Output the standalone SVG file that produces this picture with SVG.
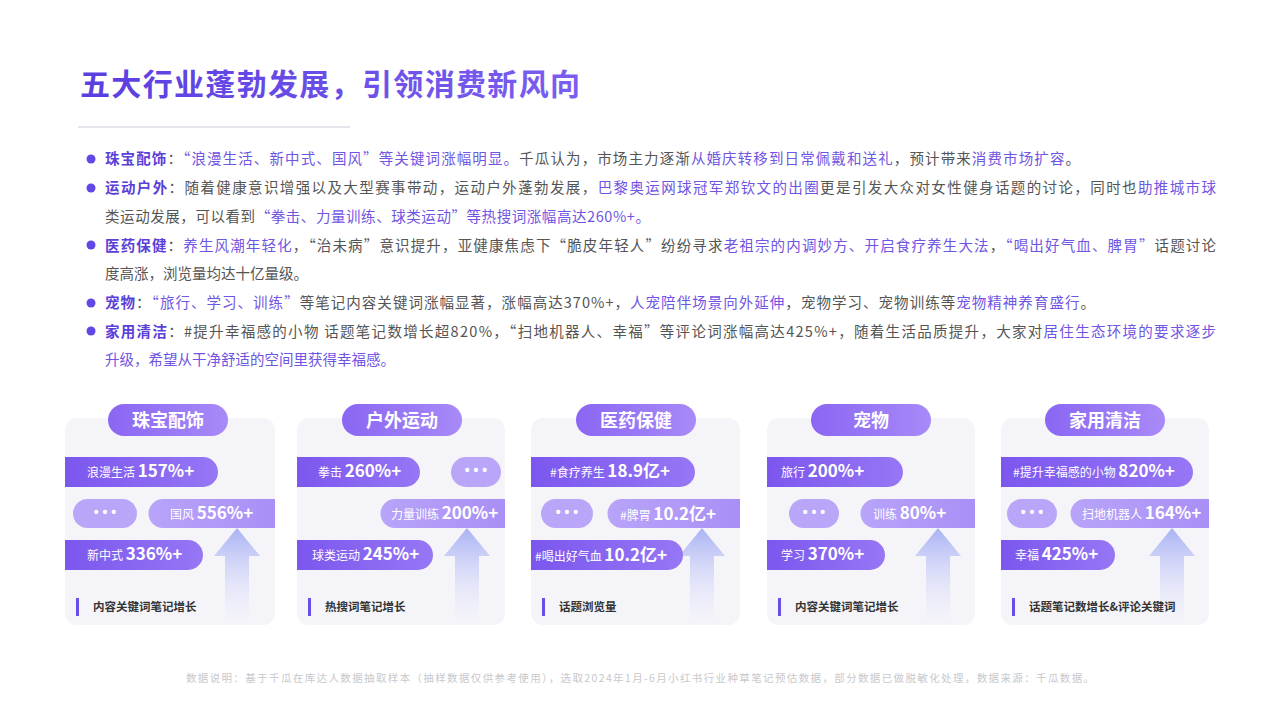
<svg xmlns="http://www.w3.org/2000/svg" width="1280" height="720" viewBox="0 0 1280 720">
<defs>
<linearGradient id="hd" x1="0" x2="1"><stop offset="0" stop-color="#8a66f3"/><stop offset="1" stop-color="#a88af8"/></linearGradient>
<linearGradient id="dk" x1="0" x2="1"><stop offset="0" stop-color="#7b57ee"/><stop offset="1" stop-color="#9677f5"/></linearGradient>
<linearGradient id="lt" x1="0" x2="1"><stop offset="0" stop-color="#b8a4f9"/><stop offset="1" stop-color="#a98ff6"/></linearGradient>
<linearGradient id="ar" x1="0" y1="0" x2="0" y2="1"><stop offset="0" stop-color="#a9b2f4"/><stop offset="1" stop-color="#f2f0fb" stop-opacity="0.2"/></linearGradient>
<linearGradient id="tt" x1="0" x2="1"><stop offset="0" stop-color="#5a3ee0"/><stop offset="1" stop-color="#7b5ef0"/></linearGradient>
</defs>
<style>
text{font-family:"Noto Sans CJK SC","Noto Sans",sans-serif}
.p{font-size:14.5px;fill:#555}
.h{fill:#5a3fd8;font-weight:bold}
.k{fill:#6f55e2}
.card{fill:#f5f5f9}
.hdt{fill:#fff;font-size:18px;font-weight:bold;text-anchor:middle}
.bt{fill:#fff;font-size:12px}
.bn{fill:#fff;font-size:17px;font-weight:bold}
.dots{fill:#fff;font-size:14px;font-weight:bold;text-anchor:middle;font-family:"Liberation Sans",sans-serif}
.lg{fill:#333;font-size:11.5px;font-weight:bold}
</style>
<rect width="1280" height="720" fill="#fff"/>
<text x="80" y="95" font-size="30" font-weight="bold" fill="url(#tt)" textLength="500" lengthAdjust="spacing">五大行业蓬勃发展，引领消费新风向</text>
<line x1="78" y1="127" x2="350" y2="127" stroke="#dcdce4" stroke-width="1.5"/>
<g fill="#6247e6"><circle cx="91" cy="159" r="4.5"/><circle cx="91" cy="188" r="4.5"/><circle cx="91" cy="245" r="4.5"/><circle cx="91" cy="303" r="4.5"/><circle cx="91" cy="331" r="4.5"/></g>
<text class="p" x="105" y="164" textLength="975" lengthAdjust="spacing"><tspan class="h">珠宝配饰</tspan>：<tspan class="k">“浪漫生活、新中式、国风”等关键词涨幅明显。</tspan>千瓜认为，市场主力逐渐<tspan class="k">从婚庆转移到日常佩戴和送礼</tspan>，预计带来<tspan class="k">消费市场扩容</tspan>。</text>
<text class="p" x="105" y="193" textLength="1111" lengthAdjust="spacing"><tspan class="h">运动户外</tspan>：随着健康意识增强以及大型赛事带动，运动户外蓬勃发展，<tspan class="k">巴黎奥运网球冠军郑钦文的出圈</tspan>更是引发大众对女性健身话题的讨论，同时也<tspan class="k">助推城市球</tspan></text>
<text class="p" x="105" y="222" textLength="545" lengthAdjust="spacing">类运动发展，可以看到<tspan class="k">“拳击、力量训练、球类运动”等热搜词涨幅高达260%+。</tspan></text>
<text class="p" x="105" y="251" textLength="1111" lengthAdjust="spacing"><tspan class="h">医药保健</tspan>：<tspan class="k">养生风潮年轻化</tspan>，“治未病”意识提升，亚健康焦虑下“脆皮年轻人”纷纷寻求<tspan class="k">老祖宗的内调妙方、开启食疗养生大法</tspan>，<tspan class="k">“喝出好气血、脾胃”</tspan>话题讨论</text>
<text class="p" x="105" y="279">度高涨，浏览量均达十亿量级。</text>
<text class="p" x="105" y="308" textLength="990" lengthAdjust="spacing"><tspan class="h">宠物</tspan>：<tspan class="k">“旅行、学习、训练”</tspan>等笔记内容关键词涨幅显著，涨幅高达370%+，<tspan class="k">人宠陪伴场景向外延伸</tspan>，宠物学习、宠物训练等<tspan class="k">宠物精神养育盛行</tspan>。</text>
<text class="p" x="105" y="337" textLength="1111" lengthAdjust="spacing"><tspan class="h">家用清洁</tspan>：#提升幸福感的小物  话题笔记数增长超820%，“扫地机器人、幸福”等评论词涨幅高达425%+，随着生活品质提升，大家对<tspan class="k">居住生态环境的要求逐步</tspan></text>
<text class="p" x="105" y="365"><tspan class="k">升级，希望从干净舒适的空间里获得幸福感。</tspan></text>

<g id="card1">
<rect class="card" x="65" y="418" width="210" height="207" rx="12"/>
<path d="M214 556 L237 528 L260 556 L249 556 L249 625 L225 625 L225 556 Z" fill="url(#ar)"/>
<rect x="108" y="404" width="120" height="32" rx="16" fill="url(#hd)"/><text class="hdt" x="168" y="427">珠宝配饰</text>
<path d="M65 457 H203 A15 15 0 0 1 203 487 H65 Z" fill="url(#dk)"/><text x="87" y="477"><tspan class="bt">浪漫生活 </tspan><tspan class="bn">157%+</tspan></text>
<rect x="73" y="499" width="64" height="29" rx="14.5" fill="#b9a6f8"/><text class="dots" x="105" y="517">• • •</text>
<path d="M275 499 H163 A14.5 14.5 0 0 0 163 528 H275 Z" fill="url(#lt)"/><text x="170" y="519"><tspan class="bt">国风 </tspan><tspan class="bn">556%+</tspan></text>
<path d="M65 540 H188 A15 15 0 0 1 188 570 H65 Z" fill="url(#dk)"/><text x="87" y="560"><tspan class="bt">新中式 </tspan><tspan class="bn">336%+</tspan></text>
<rect x="76" y="598" width="3" height="18" fill="#6a4ee8"/><text class="lg" x="93" y="611">内容关键词笔记增长</text>
</g>
<g id="card2">
<rect class="card" x="297" y="418" width="208" height="207" rx="12"/>
<path d="M444 556 L467 528 L490 556 L479 556 L479 625 L455 625 L455 556 Z" fill="url(#ar)"/>
<rect x="342" y="404" width="120" height="32" rx="16" fill="url(#hd)"/><text class="hdt" x="402" y="427">户外运动</text>
<path d="M297 457 H405 A15 15 0 0 1 405 487 H297 Z" fill="url(#dk)"/><text x="318" y="477"><tspan class="bt">拳击 </tspan><tspan class="bn">260%+</tspan></text>
<rect x="451" y="457" width="50" height="30" rx="15" fill="#b9a6f8"/><text class="dots" x="476" y="475">• • •</text>
<path d="M505 499 H395 A14.5 14.5 0 0 0 395 528 H505 Z" fill="url(#lt)"/><text x="391" y="519"><tspan class="bt">力量训练 </tspan><tspan class="bn">200%+</tspan></text>
<path d="M297 540 H418 A15 15 0 0 1 418 570 H297 Z" fill="url(#dk)"/><text x="312" y="560"><tspan class="bt">球类运动 </tspan><tspan class="bn">245%+</tspan></text>
<rect x="308" y="598" width="3" height="18" fill="#6a4ee8"/><text class="lg" x="325" y="611">热搜词笔记增长</text>
</g>
<g id="card3">
<rect class="card" x="531" y="418" width="209" height="207" rx="12"/>
<path d="M679 556 L702 528 L725 556 L714 556 L714 625 L690 625 L690 556 Z" fill="url(#ar)"/>
<rect x="576" y="404" width="120" height="32" rx="16" fill="url(#hd)"/><text class="hdt" x="636" y="427">医药保健</text>
<path d="M531 457 H680 A15 15 0 0 1 680 487 H531 Z" fill="url(#dk)"/><text x="550" y="477"><tspan class="bt">#食疗养生 </tspan><tspan class="bn">18.9亿+</tspan></text>
<rect x="541" y="499" width="52" height="29" rx="14.5" fill="#b9a6f8"/><text class="dots" x="567" y="517">• • •</text>
<path d="M740 499 H622 A14.5 14.5 0 0 0 622 528 H740 Z" fill="url(#lt)"/><text x="620" y="520"><tspan class="bt">#脾胃 </tspan><tspan class="bn">10.2亿+</tspan></text>
<path d="M531 540 H668 A15 15 0 0 1 668 570 H531 Z" fill="url(#dk)"/><text x="535" y="561"><tspan class="bt">#喝出好气血 </tspan><tspan class="bn">10.2亿+</tspan></text>
<rect x="542" y="598" width="3" height="18" fill="#6a4ee8"/><text class="lg" x="559" y="611">话题浏览量</text>
</g>
<g id="card4">
<rect class="card" x="767" y="418" width="208" height="207" rx="12"/>
<path d="M915 556 L938 528 L961 556 L950 556 L950 625 L926 625 L926 556 Z" fill="url(#ar)"/>
<rect x="811" y="404" width="120" height="32" rx="16" fill="url(#hd)"/><text class="hdt" x="871" y="427">宠物</text>
<path d="M767 457 H888 A15 15 0 0 1 888 487 H767 Z" fill="url(#dk)"/><text x="781" y="477"><tspan class="bt">旅行 </tspan><tspan class="bn">200%+</tspan></text>
<rect x="789" y="499" width="50" height="29" rx="14.5" fill="#b9a6f8"/><text class="dots" x="814" y="517">• • •</text>
<path d="M975 499 H875 A14.5 14.5 0 0 0 875 528 H975 Z" fill="url(#lt)"/><text x="873" y="519"><tspan class="bt">训练 </tspan><tspan class="bn">80%+</tspan></text>
<path d="M767 540 H870 A15 15 0 0 1 870 570 H767 Z" fill="url(#dk)"/><text x="781" y="560"><tspan class="bt">学习 </tspan><tspan class="bn">370%+</tspan></text>
<rect x="778" y="598" width="3" height="18" fill="#6a4ee8"/><text class="lg" x="795" y="611">内容关键词笔记增长</text>
</g>
<g id="card5">
<rect class="card" x="1001" y="418" width="208" height="207" rx="12"/>
<path d="M1149 556 L1172 528 L1195 556 L1184 556 L1184 625 L1160 625 L1160 556 Z" fill="url(#ar)"/>
<rect x="1045" y="404" width="120" height="32" rx="16" fill="url(#hd)"/><text class="hdt" x="1105" y="427">家用清洁</text>
<path d="M1001 457 H1178 A15 15 0 0 1 1178 487 H1001 Z" fill="url(#dk)"/><text x="1013" y="477"><tspan class="bt">#提升幸福感的小物 </tspan><tspan class="bn">820%+</tspan></text>
<rect x="1007" y="499" width="50" height="29" rx="14.5" fill="#b9a6f8"/><text class="dots" x="1032" y="517">• • •</text>
<path d="M1209 499 H1085 A14.5 14.5 0 0 0 1085 528 H1209 Z" fill="url(#lt)"/><text x="1082" y="519"><tspan class="bt">扫地机器人 </tspan><tspan class="bn">164%+</tspan></text>
<path d="M1001 540 H1100 A15 15 0 0 1 1100 570 H1001 Z" fill="url(#dk)"/><text x="1015" y="560"><tspan class="bt">幸福 </tspan><tspan class="bn">425%+</tspan></text>
<rect x="1012" y="598" width="3" height="18" fill="#6a4ee8"/><text class="lg" x="1029" y="611">话题笔记数增长&amp;评论关键词</text>
</g>
<text x="186" y="682" font-size="10.5" fill="#c8c8cc" textLength="908" lengthAdjust="spacing">数据说明：基于千瓜在库达人数据抽取样本（抽样数据仅供参考使用），选取2024年1月-6月小红书行业种草笔记预估数据，部分数据已做脱敏化处理，数据来源：千瓜数据。</text>
</svg>
